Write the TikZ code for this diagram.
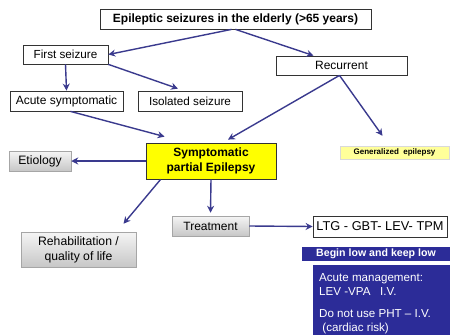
\documentclass[tikz,border=0pt]{standalone}
\usepackage{fontspec}
\setmainfont{Liberation Sans}
\usetikzlibrary{arrows.meta,shadows}
\definecolor{arrowc}{HTML}{3A3A8E}
\definecolor{bluebox}{HTML}{2C2C98}
\definecolor{yel}{HTML}{FFFF00}
\definecolor{lyel}{HTML}{FFFF99}
\tikzset{
  wbox/.style={draw=black!80, line width=0.8pt, fill=white, inner sep=0pt, font=\fontsize{12}{14}\selectfont},
  gbox/.style={draw=black!35, line width=0.5pt, top color=black!4, bottom color=black!22, inner sep=0pt,
     drop shadow={shadow xshift=1pt, shadow yshift=-1pt, opacity=0.25}, align=center},
  bbox/.style={fill=bluebox, text=white, inner sep=0pt},
  wtxt/.style={text=white, anchor=base west, inner sep=0pt, font=\fontsize{11.6}{13}\selectfont},
  arr/.style={draw=arrowc, line width=1.4pt, -{Stealth[length=7pt,width=7pt]}}
}
\begin{document}
\begin{tikzpicture}[x=1pt,y=-1pt]
\useasboundingbox (0,0) rectangle (450,335);
% nodes
\node[wbox, minimum width=271, minimum height=20, font=\bfseries\fontsize{12}{14}\selectfont] (top) at (235.5,19) {Epileptic seizures in the elderly (>65 years)};
\node[wbox, minimum width=85, minimum height=19, font=\fontsize{11.7}{13}\selectfont] (first) at (65.5,54.5) {First seizure};
\node[wbox, minimum width=131, minimum height=19, font=\fontsize{12}{14}\selectfont] (rec) at (341.5,65.5) {Recurrent};
\node[wbox, minimum width=113, minimum height=20] (acute) at (66.5,101) {Acute symptomatic};
\node[wbox, minimum width=104, minimum height=20, font=\fontsize{11.7}{13}\selectfont] (iso) at (190,101) {Isolated seizure};
\node[draw=black!80, line width=0.8pt, fill=yel, inner sep=0pt, minimum width=130, minimum height=36, align=center,
      font=\bfseries\fontsize{12}{14.5}\selectfont] (symp) at (211,161) {Symptomatic\\partial Epilepsy};
\node[gbox, minimum width=62, minimum height=20, font=\fontsize{12.2}{14}\selectfont] (etio) at (40,161) {Etiology};
\node[draw=black!15, line width=0.4pt, fill=lyel, inner sep=0pt, minimum width=109, minimum height=13,
      font=\bfseries\fontsize{8}{9}\selectfont] (gen) at (394.5,152.5) {Generalized\ \ epilepsy};
\node[gbox, minimum width=77, minimum height=20, font=\fontsize{12}{14}\selectfont] (treat) at (210.5,226) {Treatment};
\node[gbox, minimum width=115, minimum height=35, font=\fontsize{12.2}{15}\selectfont] (rehab) at (78.5,249.5) {Rehabilitation /\\quality of life};
\node[wbox, minimum width=134, minimum height=21, font=\fontsize{12.8}{14}\selectfont] (ltg) at (380,226.5) {LTG - GBT- LEV- TPM};
\node[bbox, minimum width=148, minimum height=14, font=\bfseries\fontsize{10.6}{12}\selectfont] (begin) at (376,254) {Begin low and keep low};
\node[bbox, minimum width=137, minimum height=70, anchor=north west] (acm) at (313,265) {};
\node[wtxt] (l1) at (319,281) {Acute management:};
\node[wtxt] (l2) at (319,295) {LEV -VPA\ \ \ I.V.};
\node[wtxt] (l3) at (319,317) {Do not use PHT – I.V.};
\node[wtxt] (l4) at (319,331) {\ (cardiac risk)};
% connectors
\draw[arr] ([xshift=-4]top.south) -- (first.east);
\draw[arr] ([xshift=0]top.south) -- ([xshift=-28]rec.north);
\draw[arr] (first.south) -- (acute.north);
\draw[arr] (first.south east) -- ([xshift=-12,yshift=2]iso.north);
\draw[arr] ([xshift=4]acute.south) -- ([xshift=19,yshift=6]symp.north west);
\draw[arr] ([xshift=-2]rec.south) -- ([xshift=17,yshift=3]symp.north);
\draw[arr] ([xshift=-2]rec.south) -- ([xshift=-12,yshift=10]gen.north);
\draw[arr] (symp.west) -- (etio.east);
\draw[arr] ([xshift=15]symp.south west) -- ([xshift=45,yshift=8]rehab.north);
\draw[arr] (symp.south) -- ([yshift=3]treat.north);
\draw[arr] (treat.east) -- (ltg.west);
\end{tikzpicture}
\end{document}
